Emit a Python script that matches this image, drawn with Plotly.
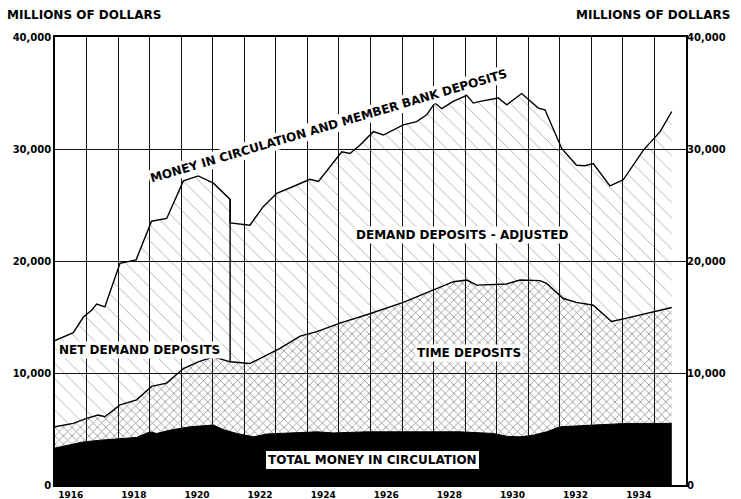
import plotly.graph_objects as go

# ---- data (millions of dollars) ----
# Total money in circulation (bottom, black)
money_years = [1916.0, 1916.9, 1917.43, 1918.16, 1918.59, 1919.01, 1919.22, 1919.65, 1920.28, 1921.02,
               1921.33, 1921.76, 1922.29, 1922.71, 1923.24, 1924.3, 1924.82, 1925.88, 1926.72, 1927.78,
               1928.84, 1929.89, 1930.32, 1930.74, 1931.16, 1931.58, 1932.01, 1933.06, 1934.12, 1935.55]
money_vals = [3300, 3850, 4000, 4150, 4250, 4750, 4600, 4900, 5200, 5350,
              4950, 4600, 4300, 4550, 4600, 4750, 4650, 4750, 4750, 4750,
              4750, 4600, 4350, 4300, 4450, 4750, 5200, 5350, 5500, 5500]

# Money in circulation + time deposits (cumulative)
mid_years = [1916.0, 1916.58, 1917.0, 1917.37, 1917.58, 1918.06, 1918.59, 1919.06, 1919.54, 1920.07,
             1920.54, 1921.02, 1921.55, 1922.18, 1922.6, 1923.13, 1923.77, 1924.3, 1925.03, 1925.88,
             1927.04, 1928.1, 1928.63, 1929.05, 1929.37, 1930.32, 1930.74, 1931.37, 1931.58, 1932.11,
             1932.53, 1933.06, 1933.64, 1934.12, 1934.96, 1935.55]
mid_vals = [5200, 5500, 5950, 6250, 6100, 7150, 7600, 8800, 9100, 10400,
            11000, 11450, 11000, 10850, 11450, 12200, 13300, 13700, 14450, 15200,
            16300, 17550, 18150, 18300, 17850, 17950, 18300, 18250, 18000, 16650,
            16300, 16050, 14600, 14900, 15450, 15850]

# Money in circulation and member bank deposits (total, cumulative)
top_years = [1916.0, 1916.58, 1916.9, 1917.16, 1917.32, 1917.58, 1918.06, 1918.57, 1919.06, 1919.54,
             1920.07, 1920.54, 1921.02, 1921.55, 1921.55, 1922.18, 1922.6, 1923.03, 1923.55, 1924.08,
             1924.35, 1925.09, 1925.35, 1925.67, 1926.09, 1926.41, 1927.04, 1927.46, 1927.78, 1928.04,
             1928.26, 1928.62, 1929.05, 1929.26, 1929.47, 1930.05, 1930.32, 1930.79, 1931.32, 1931.53,
             1932.06, 1932.53, 1932.8, 1933.06, 1933.59, 1934.01, 1934.65, 1935.18, 1935.55]
top_vals = [12900, 13600, 15000, 15600, 16150, 15900, 19800, 20100, 23550, 23800,
            27150, 27600, 26950, 25500, 23400, 23200, 24850, 26050, 26650, 27300,
            27100, 29750, 29600, 30350, 31550, 31250, 32150, 32450, 33050, 34100,
            33600, 34250, 34800, 34100, 34250, 34550, 33950, 34950, 33650, 33500,
            30050, 28550, 28500, 28700, 26700, 27250, 29900, 31550, 33350]

# change of series: net demand deposits -> demand deposits adjusted
break_year = 1921.55

year_ticks = [1916, 1918, 1920, 1922, 1924, 1926, 1928, 1930, 1932, 1934]
y_ticks = [0, 10000, 20000, 30000, 40000]
y_tick_text = ["0", "10,000", "20,000", "30,000", "40,000"]

FONT = "DejaVu Sans"

fig = go.Figure()

fig.add_trace(go.Scatter(
    x=money_years, y=money_vals, mode="lines", fill="tozeroy",
    fillcolor="black", line=dict(color="black", width=1), hoverinfo="skip",
    showlegend=False))

fig.add_trace(go.Scatter(
    x=mid_years, y=mid_vals, mode="lines", fill="tonexty",
    fillcolor="rgba(0,0,0,0)",
    fillpattern=dict(shape="x", size=6, solidity=0.24, fgcolor="#111",
                     bgcolor="rgba(0,0,0,0)", fillmode="overlay"),
    line=dict(color="black", width=1.4), hoverinfo="skip", showlegend=False))

fig.add_trace(go.Scatter(
    x=top_years, y=top_vals, mode="lines", fill="tonexty",
    fillcolor="rgba(0,0,0,0)",
    fillpattern=dict(shape="\\", size=11, solidity=0.08, fgcolor="#555",
                     bgcolor="rgba(0,0,0,0)", fillmode="overlay"),
    line=dict(color="black", width=1.4), hoverinfo="skip", showlegend=False))

bi_top = top_years.index(break_year)
bi_mid = mid_years.index(break_year)
fig.add_trace(go.Scatter(
    x=[break_year, break_year], y=[mid_vals[bi_mid], top_vals[bi_top]],
    mode="lines", line=dict(color="black", width=1.4), hoverinfo="skip",
    showlegend=False))

# invisible trace to carry the right-hand axis
fig.add_trace(go.Scatter(
    x=top_years, y=top_vals, yaxis="y2", mode="lines",
    line=dict(color="rgba(0,0,0,0)", width=0), hoverinfo="skip", showlegend=False))

tickfont = dict(family=FONT, size=10, color="black", weight="bold")

fig.update_layout(
    width=741, height=499,
    margin=dict(l=55, r=55, t=37, b=14, autoexpand=False),
    paper_bgcolor="white", plot_bgcolor="white",
    font=dict(family=FONT, color="black"),
    xaxis=dict(
        range=[1916, 1936], automargin=False,
        tickvals=[y + 0.5 for y in year_ticks],
        ticktext=[str(y) for y in year_ticks],
        tickfont=dict(family=FONT, size=9, color="black", weight="bold"),
        ticks="", showgrid=False, zeroline=False,
        showline=True, mirror=True, linecolor="black", linewidth=1.5,
        minor=dict(dtick=1, tick0=1916, showgrid=True, gridcolor="#111",
                   gridwidth=1, ticks=""),
    ),
    yaxis=dict(
        range=[0, 40000], tickvals=y_ticks, ticktext=y_tick_text, automargin=False,
        tickfont=tickfont, ticks="", showgrid=True, gridcolor="#111",
        gridwidth=1, zeroline=False, showline=True, mirror=True,
        linecolor="black", linewidth=1.5,
    ),
    yaxis2=dict(
        range=[0, 40000], tickvals=y_ticks, ticktext=y_tick_text, automargin=False,
        tickfont=tickfont, ticks="", showgrid=False, zeroline=False,
        overlaying="y", side="right", showline=False,
    ),
)

lab = dict(family=FONT, size=12, color="black", weight="bold")

fig.add_annotation(xref="paper", yref="paper", x=-0.079, y=1.049,
                   xanchor="left", yanchor="middle", showarrow=False,
                   text="MILLIONS OF DOLLARS", font=lab)
fig.add_annotation(xref="paper", yref="paper", x=1.073, y=1.049,
                   xanchor="right", yanchor="middle", showarrow=False,
                   text="MILLIONS OF DOLLARS", font=lab)

fig.add_annotation(x=1924.68, y=32050, text="MONEY IN CIRCULATION AND MEMBER BANK DEPOSITS",
                   textangle=-16.5, showarrow=False, font=lab, bgcolor="white")
fig.add_annotation(x=1928.9, y=22320, text="DEMAND DEPOSITS - ADJUSTED",
                   showarrow=False, font=lab, bgcolor="white")
fig.add_annotation(x=1916.05, y=12050, xanchor="left", text="NET DEMAND DEPOSITS",
                   showarrow=False, font=lab, bgcolor="white")
fig.add_annotation(x=1929.12, y=11790, text="TIME DEPOSITS",
                   showarrow=False, font=lab, bgcolor="white")
fig.add_annotation(x=1926.05, y=2230, text="TOTAL MONEY IN CIRCULATION",
                   showarrow=False, font=lab, bgcolor="white",
                   bordercolor="black", borderwidth=1, borderpad=2)

fig.write_html("out.html", config={"displayModeBar": False},
               post_script="document.body.style.margin='0px';")
